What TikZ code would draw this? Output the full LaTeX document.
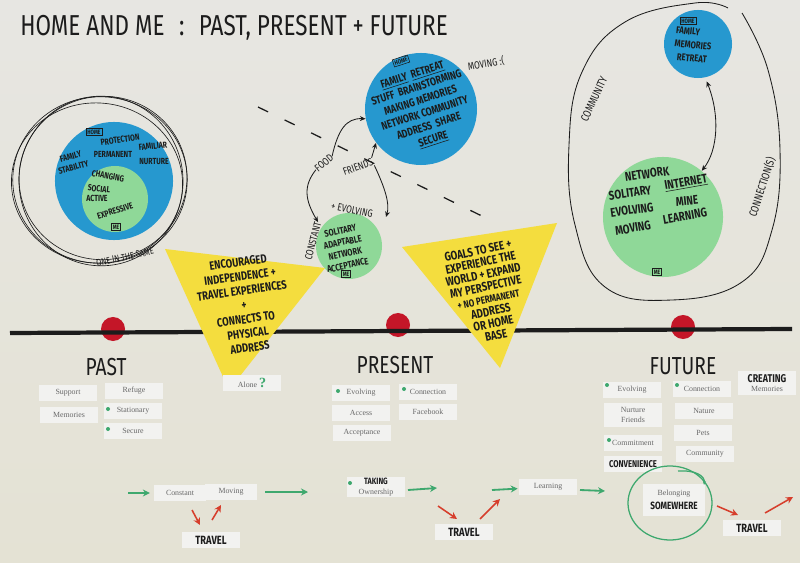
\documentclass[tikz,border=0pt]{standalone}
\usepackage{fontspec}
\setmainfont{Liberation Serif}
\newfontfamily\handfont[FakeStretch=0.78]{Fira Sans}
\usetikzlibrary{arrows.meta, positioning, calc, shapes.geometric}
\definecolor{paper}{RGB}{231,230,226}
\definecolor{paperlow}{RGB}{228,226,212}
\definecolor{homeblue}{RGB}{38,152,207}
\definecolor{megreen}{RGB}{143,216,152}
\definecolor{postit}{RGB}{244,221,62}
\definecolor{pinred}{RGB}{196,22,40}
\definecolor{markgreen}{RGB}{62,168,110}
\definecolor{markred}{RGB}{214,62,44}
\definecolor{cardwhite}{RGB}{242,242,240}
\definecolor{cardtext}{RGB}{105,105,105}
\definecolor{ink}{RGB}{28,28,28}

\begin{document}
\begin{tikzpicture}[
    x=0.025cm, y=-0.025cm,
    >={Stealth},
    pen/.style 2 args={font=\handfont\fontsize{#1}{#2}\selectfont, text=ink, inner sep=0pt, align=center},
    marker/.style 2 args={font=\handfont\bfseries\fontsize{#1}{#2}\selectfont, text=ink, inner sep=0pt, align=center},
    homedisc/.style={circle, fill=homeblue, inner sep=0pt},
    medisc/.style={circle, fill=megreen, inner sep=0pt},
    homebox/.style={draw=ink, line width=0.4pt, font=\handfont\bfseries\fontsize{4.5}{5}\selectfont, text=ink, inner sep=1pt},
    mebox/.style={homebox},
    era/.style={font=\handfont\fontsize{17.5}{17.5}\selectfont, text=ink, inner sep=0pt},
    pin/.style={circle, fill=pinred, minimum size=0.6cm, inner sep=0pt},
    card/.style={fill=cardwhite, inner sep=1pt, minimum width=1.43cm, minimum height=0.4cm, font=\fontsize{5.6}{7}\selectfont, text=cardtext, align=center},
    gdot/.style={circle, fill=markgreen, minimum size=0.1cm, inner sep=0pt},
    greenarrow/.style={-{Stealth[length=5pt,width=5pt]}, draw=markgreen, line width=1.3pt},
    redarrow/.style={-{Stealth[length=5pt,width=5pt]}, draw=markred, line width=1.1pt},
    inkarrow/.style={-{Stealth[length=4pt,width=3.5pt]}, draw=ink, line width=0.6pt}
  ]
  \shade[top color=paper, bottom color=paperlow] (0,0) rectangle (800,563);
  \useasboundingbox (0,0) rectangle (800,563);

  \node[pen={20.5}{20.5}, anchor=west] (title) at (20,28) {HOME\ AND\ ME\enspace:\enspace PAST,\ PRESENT\ +\ FUTURE};

  % past: home and me
  \foreach \cx/\cy/\rx/\ry/\ang in {100/180/2.18/2.08/0, 103/178/2.1/2.04/8, 97/183/2.14/2.0/-6, 101/181/2.05/2.12/3}
    \draw[ink, line width=0.45pt, rotate around={\ang:(\cx,\cy)}] (\cx,\cy) ellipse [x radius=\rx cm, y radius=\ry cm];
  \node[homedisc, minimum size=2.95cm] (pasthome) at (114,181) {};
  \node[medisc, minimum size=1.65cm] (pastme) at (115,199) {};
  \node[homebox] (pasthomebox) at (94,132) {HOME};
  \node[marker={6.3}{6.3}, rotate=8] (protection) at (120,140) {PROTECTION};
  \node[marker={6.3}{8}, rotate=15] (pastfamily) at (72,162) {FAMILY\\STABILITY};
  \node[marker={6.3}{6.3}] (permanent) at (113,154) {PERMANENT};
  \node[marker={6.3}{6.3}, rotate=6] (familiar) at (153,146) {FAMILIAR};
  \node[marker={6.3}{6.3}] (nurture) at (154,162) {NURTURE};
  \node[marker={6.3}{6.3}, rotate=-10] (changing) at (108,176) {CHANGING};
  \node[marker={6.3}{6.3}, rotate=-6] (social) at (99,189) {SOCIAL};
  \node[marker={6.3}{6.3}] (active) at (97,198) {ACTIVE};
  \node[marker={6.3}{6.3}, rotate=18] (expressive) at (115,211) {EXPRESSIVE};
  \node[mebox] (pastmebox) at (116,227) {ME};
  \node[pen={6.8}{6.8}, rotate=12] (oneinsame) at (125,257) {ONE IN THE SAME};

  % present: home and me
  \node[homedisc, minimum size=2.8cm] (midhome) at (421,109) {};
  \node[homebox, rotate=18] (midhomebox) at (401,61) {HOME};
  \node[marker={8}{9.6}, rotate=18] (midhometext) at (423,108) {\underline{FAMILY}\ \ \underline{RETREAT}\\STUFF\ \ BRAINSTORMING\\MAKING MEMORIES\\NETWORK COMMUNITY\\ADDRESS\ \ SHARE\\\underline{SECURE}};
  \node[pen={7.5}{7.5}, rotate=10] (moving) at (486,64) {MOVING :(};
  \node[medisc, minimum size=1.65cm] (midme) at (349,246) {};
  \node[marker={6.8}{8.4}, rotate=12] (midmetext) at (344,248) {SOLITARY\\ADAPTABLE\\NETWORK\\ACCEPTANCE};
  \node[mebox] (midmebox) at (346,274) {ME};
  \node[pen={7.5}{7.5}, rotate=75] (constant) at (313,241) {CONSTANT};
  \node[pen={7.5}{7.5}, rotate=-12] (evolving) at (352,210) {+ EVOLVING};
  \node[pen={7.5}{7.5}, rotate=40] (food) at (324,163) {FOOD};
  \node[pen={7.5}{7.5}, rotate=20] (friends) at (358,167) {FRIENDS};
  \coordinate (friendsend) at (386,217);
  \draw[inkarrow] (food.east) .. controls (338,130) and (346,118) .. (midhome.190);
  \draw[inkarrow] (food.west) .. controls (303,186) and (305,200) .. (constant.east);
  \draw[inkarrow] (friends.north east) -- (midhome.217);
  \draw[inkarrow] (friends.south east) .. controls (385,188) and (390,204) .. (friendsend);
  \coordinate (dashstart) at (258,107);
  \coordinate (dashend) at (486,218);
  \draw[ink, line width=0.9pt, dash pattern=on 8pt off 13pt] (dashstart) -- (dashend);

  % future: home and me
  \draw[ink, line width=0.6pt] plot[smooth, tension=0.7] coordinates {(742,13) (768,70) (780,150) (772,230) (742,282) (672,300) (605,287) (575,225) (569,145) (582,72) (625,22) (695,3) (728,8)};
  \node[pen={8}{8}, rotate=65] (community) at (594,99) {COMMUNITY};
  \node[pen={8}{8}, rotate=72] (connections) at (762,187) {CONNECTION(S)};
  \node[homedisc, minimum size=1.7cm] (futhome) at (698,44) {};
  \node[homebox] (futhomebox) at (688,21) {HOME};
  \node[marker={7}{9.5}, rotate=-6, align=left] (futhometext) at (693,45) {FAMILY\\MEMORIES\\\ \ RETREAT};
  \node[medisc, minimum size=3cm] (futme) at (663,217) {};
  \node[marker={9}{9}, rotate=8] (futnet) at (647,174) {NETWORK};
  \node[marker={9}{9}, rotate=8] (futsol) at (630,193) {SOLITARY};
  \node[marker={9}{9}, rotate=10] (futint) at (686,183) {\underline{INTERNET}};
  \node[marker={9}{9}, rotate=8] (futevo) at (632,210) {EVOLVING};
  \node[marker={9}{9}, rotate=6] (futmine) at (687,201) {MINE};
  \node[marker={9}{9}, rotate=10] (futmov) at (633,228) {MOVING};
  \node[marker={9}{9}, rotate=10] (futlearn) at (685,216) {LEARNING};
  \node[mebox] (futmebox) at (657,272) {ME};
  \draw[inkarrow, {Stealth[length=4pt,width=3.5pt]}-{Stealth[length=4pt,width=3.5pt]}, shorten <=3pt] (futhome.282) .. controls (720,115) and (718,150) .. (futme.50);

  % timeline
  \coordinate (tlstart) at (10,333);
  \coordinate (tlend) at (792,329);
  \node[pin] (pastpin) at (113,329) {};
  \node[pin] (presentpin) at (398,325) {};
  \node[pin] (futurepin) at (683,327) {};
  \draw[ink, line width=3pt] (tlstart) -- (tlend);
  \fill[postit] (165,249) -- (325,268) -- (229,390) -- cycle;
  \fill[postit] (402,247) -- (557,223) -- (500,368) -- cycle;
  \node[marker={8.6}{10.2}, rotate=8] (pastgoal) at (244,305) {ENCOURAGED\\INDEPENDENCE +\\TRAVEL EXPERIENCES\\+\\CONNECTS TO\\PHYSICAL\\ADDRESS};
  \node[marker={8.8}{8.8}, rotate=12] (futgoal) at (487,293) {GOALS TO SEE +\\EXPERIENCE THE\\WORLD + EXPAND\\MY PERSPECTIVE\\{\fontsize{7.3}{8.5}\selectfont + NO PERMANENT}\\ADDRESS\\OR HOME\\BASE};
  \node[era] (past) at (106,367) {PAST};
  \node[era] (present) at (395,365) {PRESENT};
  \node[era] (future) at (683,366) {FUTURE};

  % cards
  \node[card] (support) at (68,393) {Support};
  \node[card] (refuge) at (134,391) {Refuge};
  \node[card] (memories) at (69,415) {Memories};
  \node[card] (stationary) at (133,411) {Stationary};
  \node[gdot] (stationarydot) at (108,409) {};
  \node[card] (secure) at (133,431) {Secure};
  \node[gdot] (securedot) at (108,429) {};
  \node[card] (alone) at (252,383) {Alone {\color{markgreen}\fontsize{10}{10}\selectfont\bfseries ?}};
  \node[card] (presevolving) at (361,393) {Evolving};
  \node[gdot] (presevolvingdot) at (338,391) {};
  \node[card] (presconnection) at (428,392) {Connection};
  \node[gdot] (presconnectiondot) at (404,389) {};
  \node[card] (access) at (361,413) {Access};
  \node[card] (facebook) at (428,412) {Facebook};
  \node[card] (acceptance) at (362,433) {Acceptance};
  \node[card] (futevolving) at (632,390) {Evolving};
  \node[gdot] (futevolvingdot) at (607,385) {};
  \node[card] (futconnection) at (702,389) {Connection};
  \node[gdot] (futconnectiondot) at (677,385) {};
  \node[card, minimum height=0.62cm] (creating) at (767,383) {{\handfont\bfseries\fontsize{8}{8}\selectfont\color{ink}CREATING}\\Memories};
  \node[card, minimum height=0.62cm] (nurture) at (633,415) {Nurture\\Friends};
  \node[card] (nature) at (704,411) {Nature};
  \node[card] (pets) at (703,433) {Pets};
  \node[card] (commitment) at (633,443) {Commitment};
  \node[gdot] (commitmentdot) at (609,440) {};
  \node[card] (futcommunity) at (705,454) {Community};
  \node[card, text=ink, font=\handfont\bfseries\fontsize{7}{7}\selectfont] (convenience) at (633,464) {CONVENIENCE};

  % bottom row
  \node[card, minimum width=1.28cm] (constantcard) at (180,493) {Constant};
  \node[card, minimum width=1.28cm] (movingcard) at (231,492) {Moving};
  \node[card, minimum height=0.48cm] (ownership) at (376,487) {{\handfont\bfseries\fontsize{6.5}{6.5}\selectfont\color{ink}TAKING}\\Ownership};
  \node[gdot] (ownershipdot) at (350,483) {};
  \node[card, text=ink, font=\handfont\bfseries\fontsize{8.5}{8.5}\selectfont] (travela) at (211,540) {TRAVEL};
  \node[card, text=ink, font=\handfont\bfseries\fontsize{8.5}{8.5}\selectfont] (travelb) at (464,532) {TRAVEL};
  \node[card] (learning) at (548,487) {Learning};
  \node[ellipse, draw=markgreen, line width=0.9pt, minimum width=2.1cm, minimum height=1.85cm] (belongloop) at (670,503) {};
  \node[card, minimum width=1.55cm, minimum height=0.8cm] (belonging) at (674,500) {Belonging\\[3pt]{\handfont\bfseries\fontsize{7.5}{7.5}\selectfont\color{ink}SOMEWHERE}};
  \node[card, text=ink, font=\handfont\bfseries\fontsize{8.5}{8.5}\selectfont] (travelc) at (752,528) {TRAVEL};
  \coordinate (hookstart) at (678,471);
  \coordinate (hookend) at (704,485);
  \draw[markgreen, line width=0.9pt, -{Stealth[length=3pt]}] (hookstart) .. controls (696,470) and (705,476) .. (hookend);

  \coordinate (g1s) at (128,493);
  \coordinate (g2s) at (265,492);
  \coordinate (g2e) at (308,492);
  \coordinate (g3s) at (408,490);
  \coordinate (g3e) at (437,488);
  \coordinate (g4s) at (492,490);
  \coordinate (g5s) at (580,490);
  \coordinate (g5e) at (605,491);
  \coordinate (r1s) at (192,510);
  \coordinate (r1e) at (200,525);
  \coordinate (r2s) at (212,520);
  \coordinate (r2e) at (221,505);
  \coordinate (r3s) at (438,506);
  \coordinate (r3e) at (457,519);
  \coordinate (r4s) at (480,519);
  \coordinate (r4e) at (500,499);
  \coordinate (r5s) at (717,506);
  \coordinate (r5e) at (738,515);
  \coordinate (r6s) at (765,513);
  \coordinate (r6e) at (793,497);
  \draw[greenarrow, shorten >=3pt] (g1s) -- (constantcard);
  \draw[greenarrow] (g2s) -- (g2e);
  \draw[greenarrow] (g3s) -- (g3e);
  \draw[greenarrow, shorten >=1pt] (g4s) -- (learning);
  \draw[greenarrow] (g5s) -- (g5e);
  \draw[redarrow] (r1s) -- (r1e);
  \draw[redarrow] (r2s) -- (r2e);
  \draw[redarrow] (r3s) -- (r3e);
  \draw[redarrow] (r4s) -- (r4e);
  \draw[redarrow] (r5s) -- (r5e);
  \draw[redarrow] (r6s) -- (r6e);
\end{tikzpicture}
\end{document}
